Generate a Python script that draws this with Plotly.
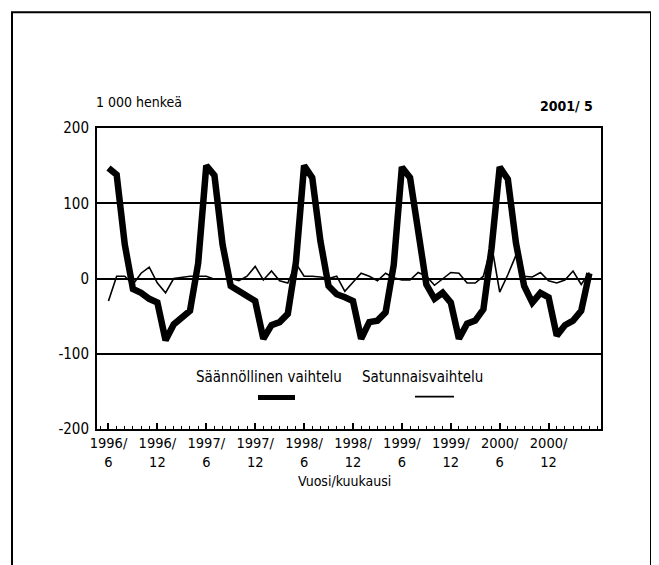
import plotly.graph_objects as go

# Months 1996/6 .. 2001/5 (index 0..59)
month_index = list(range(60))

# Säännöllinen vaihtelu (seasonal variation), 1 000 persons
seasonal = [147, 138, 45, -14, -19, -27, -32, -82, -61, -51, -43, 20,
            150, 137, 45, -10, -17, -23, -30, -80, -62, -58, -47, 22,
            150, 134, 50, -10, -21, -25, -30, -80, -58, -56, -45, 18,
            148, 134, 62, -8, -27, -19, -32, -80, -60, -56, -41, 40,
            148, 132, 47, -10, -32, -19, -25, -76, -62, -56, -43, 7]

# Satunnaisvaihtelu (irregular variation), 1 000 persons
irregular = [-30, 3, 3, -8, 7, 15, -6, -19, 0, 2, 3, 3,
             3, -1, -1, 0, -3, 3, 16, -2, 10, -3, -6, 20,
             3, 3, 2, 0, 3, -17, -5, 7, 3, -3, 7, 1,
             -2, -2, 8, 3, -9, -1, 8, 7, -6, -6, 3, 45,
             -18, 5, 31, 3, 2, 8, -3, -6, -2, 10, -8, 8]

tick_positions = [0, 6, 12, 18, 24, 30, 36, 42, 48, 54]
tick_labels = ["1996/<br>6", "1996/<br>12", "1997/<br>6", "1997/<br>12",
               "1998/<br>6", "1998/<br>12", "1999/<br>6", "1999/<br>12",
               "2000/<br>6", "2000/<br>12"]
y_ticks = [-200, -100, 0, 100, 200]

FONT = "Liberation Sans Narrow, Arial Narrow, DejaVu Sans Condensed, Roboto Condensed, sans-serif"

fig = go.Figure()
fig.add_trace(go.Scatter(x=month_index, y=seasonal, mode="lines",
                         line=dict(color="black", width=6.5),
                         name="Säännöllinen vaihtelu", showlegend=False))
fig.add_trace(go.Scatter(x=month_index, y=irregular, mode="lines",
                         line=dict(color="black", width=1.6),
                         name="Satunnaisvaihtelu", showlegend=False))

# page body has an 8px margin; layout below is given in page pixels
OFF = 8
W, H = 650, 557
PL, PR, PT, PB = 97, 601, 128, 429.5  # plot area in page pixels
L = PL - OFF
T = PT - OFF
R = W - (PR - OFF)
B = H - (PB - OFF)
pw = PR - PL
ph = PB - PT

def px_x(p):
    return (p - PL) / pw

def px_y(p):
    return (PB - p) / ph

fig.update_layout(
    width=W, height=H,
    margin=dict(l=L, r=R, t=T, b=B, pad=0),
    paper_bgcolor="white", plot_bgcolor="white",
    font=dict(family=FONT, color="black", size=15),
    showlegend=False,
    xaxis=dict(range=[-1.41, 60.43], tickmode="array", tickvals=tick_positions,
               ticktext=tick_labels, ticks="inside", ticklen=6, tickwidth=1.5,
               tickcolor="black", showgrid=False, zeroline=False,
               showline=True, linecolor="black", linewidth=2, mirror=True,
               tickfont=dict(family=FONT, size=14.5, color="black"),
               minor=dict(ticks="inside", ticklen=3, tickwidth=1, tickcolor="black",
                          dtick=1, tick0=0, showgrid=False),
               fixedrange=True),
    yaxis=dict(range=[-200, 200], tickmode="array", tickvals=y_ticks,
               ticktext=[str(v) for v in y_ticks], ticks="",
               showgrid=True, gridcolor="black", gridwidth=1.5,
               zeroline=True, zerolinecolor="black", zerolinewidth=2,
               showline=True, linecolor="black", linewidth=2, mirror=True,
               tickfont=dict(family=FONT, size=15, color="black"),
               ticklabelstandoff=3, fixedrange=True),
    shapes=[
        dict(type="rect", xref="paper", yref="paper",
             x0=px_x(12), x1=px_x(651), y0=px_y(590), y1=px_y(12),
             line=dict(color="black", width=2), layer="below"),
        dict(type="line", xref="paper", yref="paper",
             x0=px_x(258), x1=px_x(295), y0=px_y(398), y1=px_y(398),
             line=dict(color="black", width=5)),
        dict(type="line", xref="paper", yref="paper",
             x0=px_x(415), x1=px_x(454), y0=px_y(397), y1=px_y(397),
             line=dict(color="black", width=1.8)),
    ],
    annotations=[
        dict(text="1 000 henkeä", xref="paper", yref="paper",
             x=px_x(94), y=px_y(102), xanchor="left", yanchor="middle",
             showarrow=False, font=dict(family=FONT, size=14)),
        dict(text="<b>2001/ 5</b>", xref="paper", yref="paper",
             x=px_x(595), y=px_y(106), xanchor="right", yanchor="middle",
             showarrow=False, font=dict(family=FONT, size=14)),
        dict(text="Vuosi/kuukausi", xref="paper", yref="paper",
             x=px_x(344), y=px_y(482), xanchor="center", yanchor="middle",
             showarrow=False, font=dict(family=FONT, size=14)),
        dict(text="Säännöllinen vaihtelu", xref="paper", yref="paper",
             x=px_x(268.5), y=px_y(377), xanchor="center", yanchor="middle",
             showarrow=False, font=dict(family=FONT, size=15)),
        dict(text="Satunnaisvaihtelu", xref="paper", yref="paper",
             x=px_x(422.5), y=px_y(377), xanchor="center", yanchor="middle",
             showarrow=False, font=dict(family=FONT, size=15)),
    ],
)

fig.write_html("out.html")
